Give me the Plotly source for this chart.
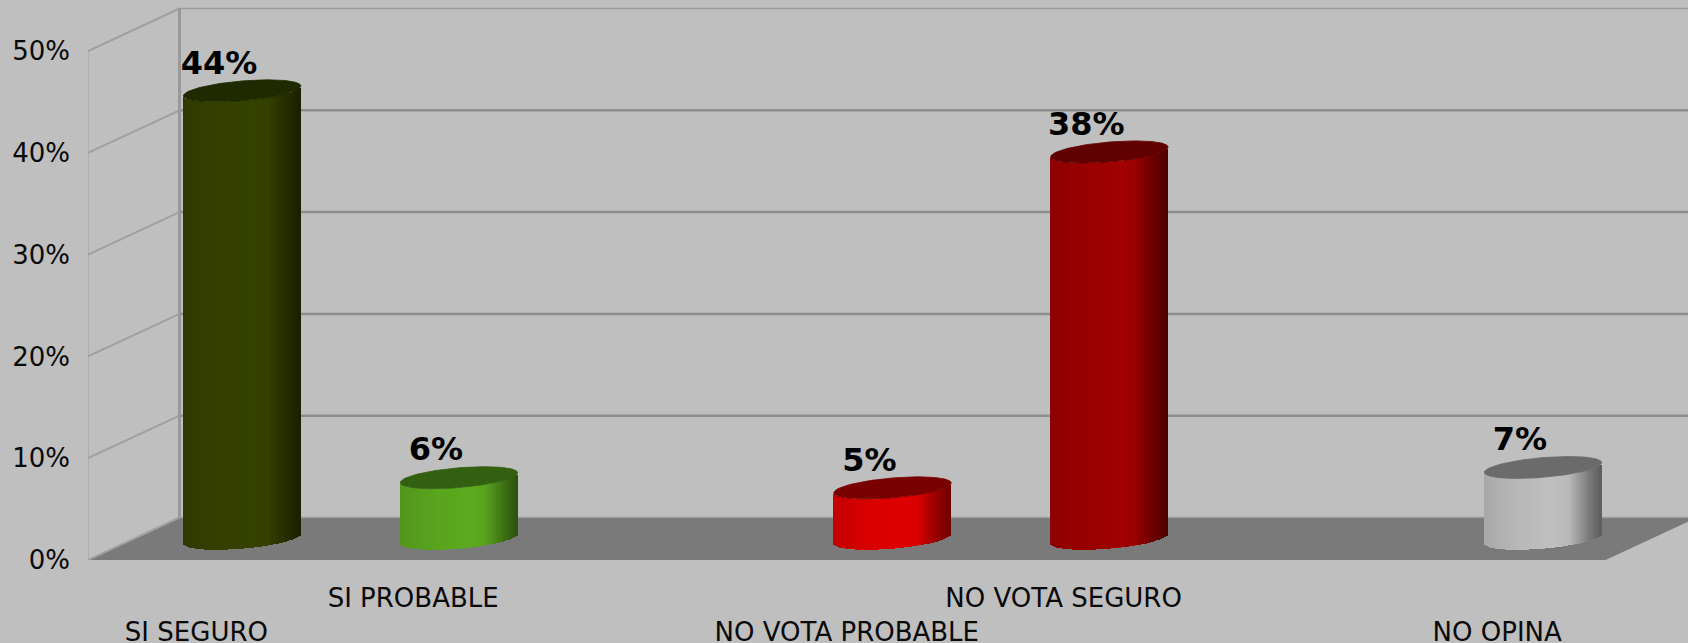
import numpy as np
import plotly.graph_objects as go

categories = ["SI SEGURO", "SI PROBABLE", "", "NO VOTA PROBABLE", "NO VOTA SEGURO", "", "NO OPINA"]
values = [44, 6, None, 5, 38, None, 7]
y_ticks = [0, 10, 20, 30, 40, 50]

side_colors = ["#364200", "#5cab1f", None, "#e00000", "#a00000", None, "#c0c0c0"]
top_colors = ["#202a00", "#335f10", None, "#7a0000", "#600000", None, "#6b6b6b"]
shade_u = [-1.0, -0.4, 0.2, 0.45, 0.7, 1.0]
shade_k = [0.88, 0.96, 1.0, 0.96, 0.72, 0.48]

BG = "#bfbfbf"
FONT = "DejaVu Sans"
W, H = 1688, 643
LEFT, BOTTOM = 88, 83
PX_X, PX_Y = 216.8, 10.18
DEPTH_X, DEPTH_Y = 91.5 / PX_X, 42.5 / PX_Y
RX = 58.7 / PX_X
RY, TILT = 0.97, 0.476
N = 60
X0, X1 = -0.5, len(categories) - 0.5
XMAX = X0 + (W - LEFT) / PX_X
YMAX = (H - BOTTOM) / PX_Y


def hexmul(col, k):
    r, g, b = (int(col[i:i + 2], 16) for i in (1, 3, 5))
    return f"rgb({r * k:.0f},{g * k:.0f},{b * k:.0f})"


shapes = []


def line(x0, y0, x1, y1, color, width):
    shapes.append(dict(type="line", xref="x", yref="y", x0=x0, y0=y0, x1=x1, y1=y1,
                       layer="below", line=dict(color=color, width=width)))


# floor
shapes.append(dict(type="path", xref="x", yref="y", layer="below", fillcolor="#7a7a7a",
                   line=dict(width=0),
                   path=f"M{X0},0 L{X1},0 L{X1 + DEPTH_X},{DEPTH_Y} L{X0 + DEPTH_X},{DEPTH_Y} Z"))
# walls
for t in y_ticks:
    w = 1.5 if t in (0, 50) else 2.5
    line(X0 + DEPTH_X, t + DEPTH_Y, XMAX, t + DEPTH_Y, "#8e8e8e" if t not in (0, 50) else "#9c9c9c", w)
    line(X0, t, X0 + DEPTH_X, t + DEPTH_Y, "#a0a0a0", 2)
line(X0, 0, X0, y_ticks[-1], "#a0a0a0", 1)
line(X0 + DEPTH_X, DEPTH_Y, X0 + DEPTH_X, y_ticks[-1] + DEPTH_Y, "#999999", 3)

fig = go.Figure()
u = (np.arange(N) + 0.5) / N * 2 - 1
k = np.interp(u, shade_u, shade_k)
theta = np.linspace(0, 2 * np.pi, 121)
lx, ly, lt = [], [], []
for i, (v, side, top) in enumerate(zip(values, side_colors, top_colors)):
    if v is None:
        continue
    cx = i + DEPTH_X / 2
    cy = DEPTH_Y / 2
    fig.add_trace(go.Bar(
        x=cx + u * RX,
        y=[v] * N,
        base=cy + TILT * u - RY * np.sqrt(1 - u ** 2),
        width=2 * RX / N,
        marker=dict(color=[hexmul(side, s) for s in k], line=dict(width=0)),
        name=categories[i],
    ))
    fig.add_trace(go.Scatter(
        x=cx + RX * np.cos(theta),
        y=cy + v + RY * np.sin(theta) + TILT * np.cos(theta),
        mode="lines", fill="toself", fillcolor=top, line=dict(width=0.8, color=top),
        name=categories[i],
    ))
    lx.append(cx - 21.5 * 1.0765 / PX_X)
    ly.append(cy + v + 23.5 * 1.0765 / PX_Y)
    lt.append(f"{v}%")

fig.add_trace(go.Scatter(x=lx, y=ly, text=lt, mode="text", textposition="middle center",
                         textfont=dict(family=FONT, size=32, color="#000000", weight="bold")))

ticktext = [(" <br>" + c if i % 3 == 0 else c) for i, c in enumerate(categories)]

fig.update_layout(
    width=W, height=H, autosize=False, showlegend=False, barmode="overlay", bargap=0,
    paper_bgcolor=BG, plot_bgcolor=BG,
    margin=dict(l=LEFT, r=0, t=0, b=BOTTOM, pad=0),
    shapes=shapes,
    font=dict(family=FONT, size=26, color="#0a0a0a"),
    xaxis=dict(range=[X0, XMAX], tickmode="array", tickvals=list(range(len(categories))),
               ticktext=ticktext, tickangle=0, showgrid=False, zeroline=False, showline=False,
               ticks="", ticklabelstandoff=20, automargin=False,
               tickfont=dict(family=FONT, size=26, color="#0a0a0a")),
    yaxis=dict(range=[0, YMAX], tickmode="array", tickvals=y_ticks,
               ticktext=[f"{t}%" for t in y_ticks], showgrid=False, zeroline=False, showline=False,
               ticks="", ticklabelstandoff=17, automargin=False,
               tickfont=dict(family=FONT, size=26, color="#0a0a0a")),
)
fig.write_html("out.html", config=dict(displayModeBar=False),
               post_script="document.body.style.margin='0';document.body.style.overflow='hidden';")
